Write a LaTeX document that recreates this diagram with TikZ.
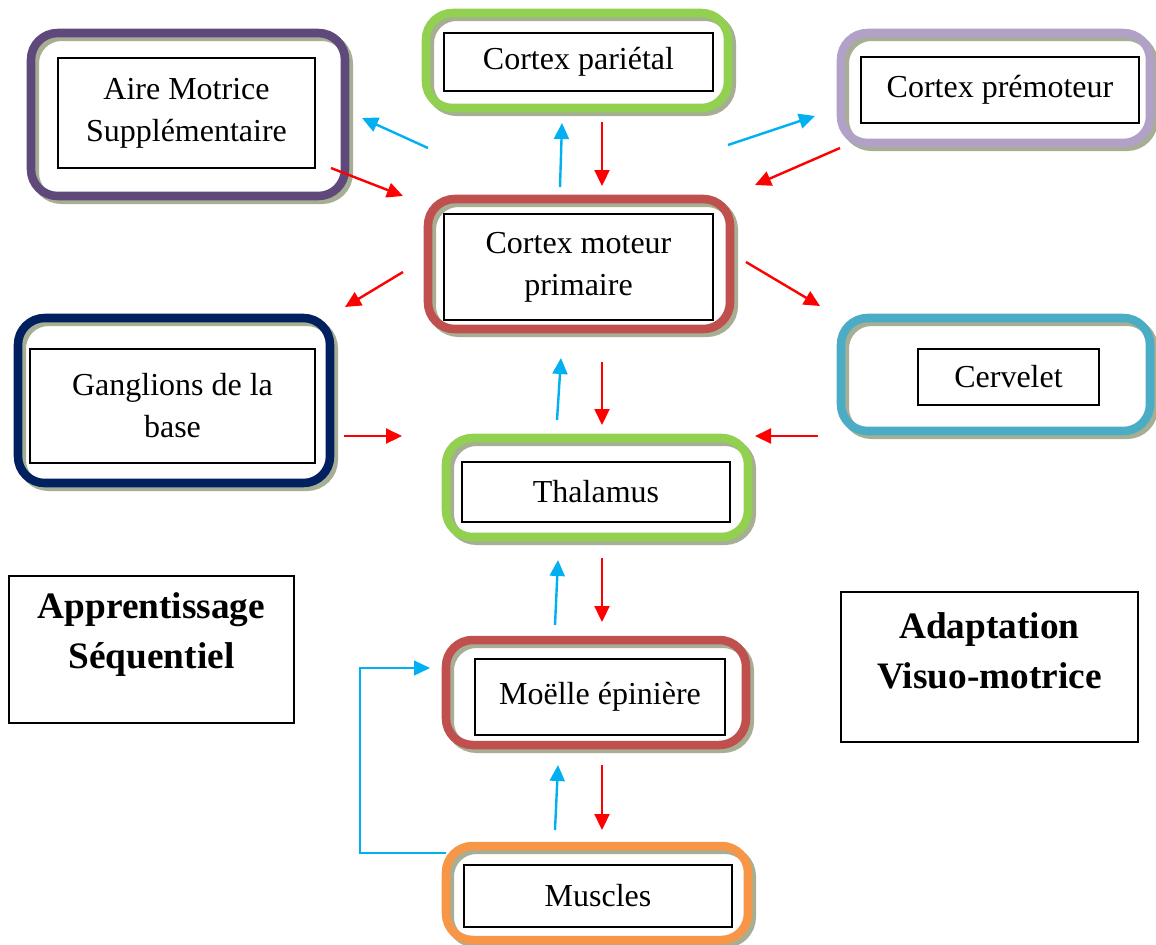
\documentclass[tikz,border=0pt]{standalone}
\usepackage{fontspec}
\setmainfont{Liberation Serif}
\usetikzlibrary{arrows.meta}
\usetikzlibrary{shadows}
\definecolor{amspurple}{RGB}{95,73,122}
\definecolor{lgreen}{RGB}{146,208,80}
\definecolor{lavender}{RGB}{178,161,199}
\definecolor{brickred}{RGB}{192,80,77}
\definecolor{navy}{RGB}{0,32,96}
\definecolor{teal}{RGB}{75,172,198}
\definecolor{lorange}{RGB}{247,150,70}
\definecolor{shadowgreen}{RGB}{166,175,147}
\definecolor{lblue}{RGB}{0,176,240}
\newdimen\pxu
\pxu=0.375pt
\tikzset{
      areaframe/.style={draw=#1, line width=3.2pt, rounded corners=10pt, inner sep=0pt, outer sep=0pt,
            general shadow={draw=shadowgreen, line width=3.2pt, shadow xshift=1.4pt, shadow yshift=-1.4pt}},
      areabox/.style={draw=black, line width=0.6pt, inner sep=0pt, outer sep=0pt, align=center,
            font=\fontsize{12pt}{15.75pt}\selectfont},
      infobox/.style={draw=black, line width=0.6pt, inner sep=0pt},
      infotext/.style={align=center, inner sep=0pt, font=\fontsize{14pt}{18.75pt}\selectfont\bfseries},
      redarrow/.style={draw=red, line width=0.9pt, -{Triangle[length=6pt,width=5.6pt]}},
      bluearrow/.style={draw=lblue, line width=0.9pt, -{Triangle[length=6pt,width=5.6pt]}},
}

\begin{document}
\begin{tikzpicture}[x=0.375pt, y=-0.375pt]
        \useasboundingbox (0,0) rectangle (1156,944);

        % frames
        \node[areaframe=amspurple, minimum width=314\pxu, minimum height=163\pxu] (ams) at (188,114.5) {};
        \node[areaframe=lgreen, minimum width=302\pxu, minimum height=95\pxu] (par) at (577,60.5) {};
        \node[areaframe=lavender, minimum width=309\pxu, minimum height=110\pxu] (pre) at (995.5,88) {};
        \node[areaframe=brickred, minimum width=302\pxu, minimum height=130\pxu] (cmp) at (579,264) {};
        \node[areaframe=navy, minimum width=312\pxu, minimum height=165\pxu] (gan) at (174,400.5) {};
        \node[areaframe=teal, minimum width=309\pxu, minimum height=113\pxu] (cer) at (995.5,374.5) {};
        \node[areaframe=lgreen, minimum width=302\pxu, minimum height=99\pxu] (tha) at (597,487.5) {};
        \node[areaframe=brickred, minimum width=300\pxu, minimum height=105\pxu] (moe) at (596,692.5) {};
        \node[areaframe=lorange, minimum width=302\pxu, minimum height=94\pxu] (mus) at (597,893) {};

        % labels
        \node[areabox, minimum width=257\pxu, minimum height=110\pxu] (ams-txt) at (186.5,113) {Aire Motrice\\Supplémentaire};
        \node[areabox, minimum width=269\pxu, minimum height=58\pxu] (par-txt) at (578.5,62) {Cortex pariétal};
        \node[areabox, minimum width=278\pxu, minimum height=66\pxu] (pre-txt) at (1000,90) {Cortex prémoteur};
        \node[areabox, minimum width=269\pxu, minimum height=106\pxu] (cmp-txt) at (578.5,267) {Cortex moteur\\primaire};
        \node[areabox, minimum width=285\pxu, minimum height=114\pxu] (gan-txt) at (172.5,406) {Ganglions de la\\base};
        \node[areabox, minimum width=181\pxu, minimum height=56\pxu] (cer-txt) at (1008.5,377) {Cervelet};
        \node[areabox, minimum width=268\pxu, minimum height=60\pxu] (tha-txt) at (596,492) {Thalamus};
        \node[areabox, minimum width=250\pxu, minimum height=76\pxu] (moe-txt) at (600,697) {Moëlle épinière};
        \node[areabox, minimum width=268\pxu, minimum height=62\pxu] (mus-txt) at (598,896) {Muscles};

        \node[infobox, minimum width=285\pxu, minimum height=147\pxu] (appr) at (151.5,649.5) {};
        \node[infotext] (appr-txt) at (151.5,635) {Apprentissage\\Séquentiel};
        \node[infobox, minimum width=297\pxu, minimum height=150\pxu] (adapt) at (989.5,667) {};
        \node[infotext] (adapt-txt) at (989.5,651) {Adaptation\\Visuo-motrice};

        % descending
        \draw[redarrow] ([shift={(-14,-28)}]ams.south east) -- ([shift={(-25,-3)}]cmp.north west);
        \draw[redarrow] ([shift={(25,14)}]par.south) -- ([shift={(23,-13)}]cmp.north);
        \draw[redarrow] ([shift={(-1,5)}]pre.south west) -- ([shift={(25,-14)}]cmp.north east);
        \draw[redarrow] ([shift={(-25,8)}]cmp.west) -- ([shift={(15,-11)}]gan.north east);
        \draw[redarrow] ([shift={(16,-2)}]cmp.east) -- ([shift={(-21,-12)}]cer.north west);
        \draw[redarrow] ([shift={(23,33)}]cmp.south) -- ([shift={(5,-13)}]tha.north);
        \draw[redarrow] ([shift={(14,-47)}]gan.south east) -- ([shift={(-44,-2)}]tha.north west);
        \draw[redarrow] ([shift={(-23,5)}]cer.south west) -- ([shift={(7,-2)}]tha.north east);
        \draw[redarrow] ([shift={(5,21)}]tha.south) -- ([shift={(6,-18)}]moe.north);
        \draw[redarrow] ([shift={(6,20)}]moe.south) -- ([shift={(5,-16)}]mus.north);

        % ascending
        \draw[bluearrow] ([shift={(0,-51)}]cmp.north west) -- ([shift={(17,3.5)}]ams.east);
        \draw[bluearrow] ([shift={(-19,-12)}]cmp.north) -- ([shift={(-15,15)}]par.south);
        \draw[bluearrow] ([shift={(-2,-54)}]cmp.north east) -- ([shift={(-26,28)}]pre.west);
        \draw[bluearrow] ([shift={(-40,-18)}]tha.north) -- ([shift={(-18,29)}]cmp.south);
        \draw[bluearrow] ([shift={(-41,-15)}]moe.north) -- ([shift={(-39,23)}]tha.south);
        \draw[bluearrow] ([shift={(-42,-16)}]mus.north) -- ([shift={(-38,20)}]moe.south);
        \draw[bluearrow, line width=0.6pt] ([shift={(0,7)}]mus.north west) -- ++(-86,0) |- ([shift={(-16,28)}]moe.north west);

\end{tikzpicture}
\end{document}
